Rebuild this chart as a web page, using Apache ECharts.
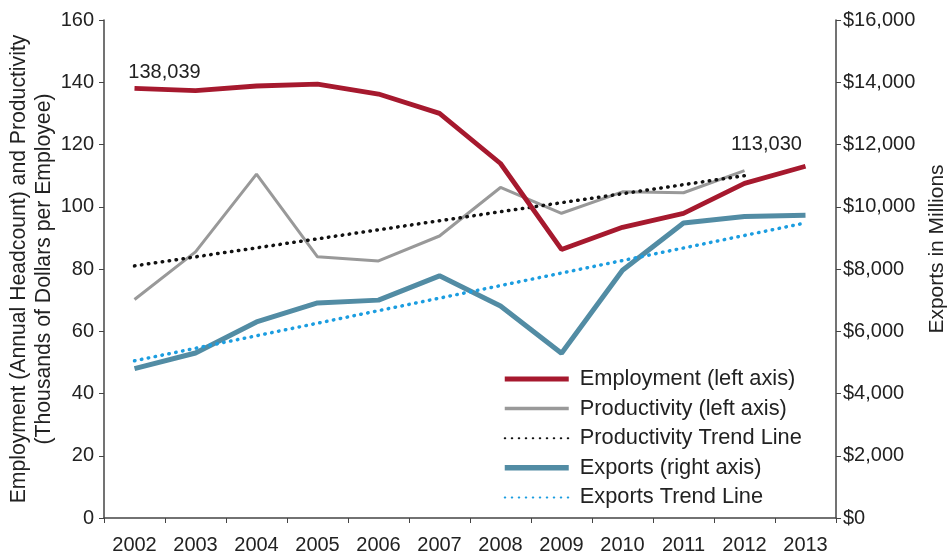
<!DOCTYPE html>
<html>
<head>
<meta charset="utf-8">
<script src="https://cdn.jsdelivr.net/npm/echarts@6/dist/echarts.min.js"></script>
<style>
  html, body { margin: 0; padding: 0; background: #fff; }
  #main { width: 949px; height: 556px; }
</style>
</head>
<body>
<div id="main"></div>
<script>
var years = ['2002', '2003', '2004', '2005', '2006', '2007', '2008', '2009', '2010', '2011', '2012', '2013'];

// left axis, thousands
var employment = [138.039, 137.3, 138.8, 139.4, 136.2, 130.0, 113.9, 86.3, 93.4, 97.9, 107.5, 113.03];
var productivity = [70.2, 85.5, 110.5, 83.9, 82.6, 90.6, 106.2, 97.9, 104.8, 104.5, 111.6, null];
// trend lines: only the end points, joined straight
var productivityTrend = [81.0, null, null, null, null, null, null, null, null, null, 110.0, null];

// right axis, $ millions
var exportsM = [4800, 5300, 6300, 6910, 7000, 7780, 6810, 5290, 7960, 9480, 9690, 9730];
var exportsTrend = [5050, null, null, null, null, null, null, null, null, null, null, 9480];

var employmentCallouts = { 0: '138,039', 11: '113,030' };

var FONT = '"Liberation Sans", Arial, sans-serif';
var myChart = echarts.init(document.getElementById('main'));

var employmentData = employment.map(function (v, i) {
  if (employmentCallouts[i] === undefined) return v;
  return {
    value: v,
    label: {
      show: true,
      position: 'top',
      formatter: employmentCallouts[i],
      offset: i === 0 ? [30, -1] : [-39, -7]
    }
  };
});

myChart.setOption({
  animation: false,
  textStyle: { fontFamily: FONT },
  grid: { left: 104, right: 113, top: 20, bottom: 38, outerBoundsMode: 'none', containLabel: false },
  legend: {
    orient: 'vertical',
    left: 497,
    top: 363,
    itemWidth: 64,
    itemHeight: 14,
    itemGap: 7.6,
    itemStyle: { opacity: 0 },
    textStyle: { fontSize: 21.8, color: '#222', fontFamily: FONT, padding: [0, 0, 0, 6] },
    data: [
      { name: 'Employment (left axis)', lineStyle: { width: 5 } },
      { name: 'Productivity (left axis)', lineStyle: { width: 3.5 } },
      { name: 'Productivity Trend Line' },
      { name: 'Exports (right axis)', lineStyle: { width: 5.5 } },
      { name: 'Exports Trend Line' }
    ]
  },
  xAxis: {
    type: 'category',
    data: years,
    boundaryGap: true,
    axisLine: { lineStyle: { color: '#444', width: 1.5 } },
    axisTick: { show: true, length: 5, interval: 0, lineStyle: { color: '#444' } },
    axisLabel: { fontSize: 20, color: '#222', margin: 17, interval: 0 }
  },
  yAxis: [{
    type: 'value',
    min: 0,
    max: 160,
    interval: 20,
    name: 'Employment (Annual Headcount) and Productivity\n(Thousands of Dollars per Employee)',
    nameLocation: 'middle',
    nameGap: 47,
    nameMoveOverlap: false,
    nameTextStyle: { fontSize: 21.2, color: '#222', lineHeight: 25 },
    axisLine: { show: true, lineStyle: { color: '#444', width: 1.5 } },
    axisTick: { show: true, length: 5, lineStyle: { color: '#444' } },
    axisLabel: { fontSize: 20, color: '#222', margin: 10 },
    splitLine: { show: false }
  }, {
    type: 'value',
    min: 0,
    max: 16000,
    interval: 2000,
    position: 'right',
    name: 'Exports in Millions',
    nameLocation: 'middle',
    nameGap: 91,
    nameMoveOverlap: false,
    nameTextStyle: { fontSize: 21, color: '#222', padding: [0, 0, 0, 40] },
    axisLine: { show: true, lineStyle: { color: '#444', width: 1.5 } },
    axisTick: { show: true, length: 5, lineStyle: { color: '#444' } },
    axisLabel: {
      fontSize: 20, color: '#222', margin: 7,
      formatter: function (v) { return '$' + v.toLocaleString('en-US'); }
    },
    splitLine: { show: false }
  }],
  series: [{
    name: 'Employment (left axis)',
    type: 'line',
    data: employmentData,
    symbol: 'circle',
    symbolSize: 0,
    showSymbol: true,
    lineStyle: { color: '#a6192e', width: 4.8 },
    itemStyle: { color: '#a6192e' },
    label: { fontSize: 20, color: '#222' },
    z: 5
  }, {
    name: 'Productivity (left axis)',
    type: 'line',
    data: productivity,
    symbol: 'none',
    lineStyle: { color: '#999999', width: 3 },
    itemStyle: { color: '#999999' },
    z: 3
  }, {
    name: 'Productivity Trend Line',
    type: 'line',
    data: productivityTrend,
    connectNulls: true,
    symbol: 'none',
    lineStyle: { color: '#111', width: 3.5, type: [0.5, 6.5], cap: 'round' },
    itemStyle: { color: '#111' },
    z: 4
  }, {
    name: 'Exports (right axis)',
    type: 'line',
    yAxisIndex: 1,
    data: exportsM,
    symbol: 'none',
    lineStyle: { color: '#528ca4', width: 5 },
    itemStyle: { color: '#528ca4' },
    z: 3
  }, {
    name: 'Exports Trend Line',
    type: 'line',
    yAxisIndex: 1,
    data: exportsTrend,
    connectNulls: true,
    symbol: 'none',
    lineStyle: { color: '#1b9de0', width: 3.5, type: [0.5, 6.5], cap: 'round' },
    itemStyle: { color: '#1b9de0' },
    z: 4
  }]
});
</script>
</body>
</html>
